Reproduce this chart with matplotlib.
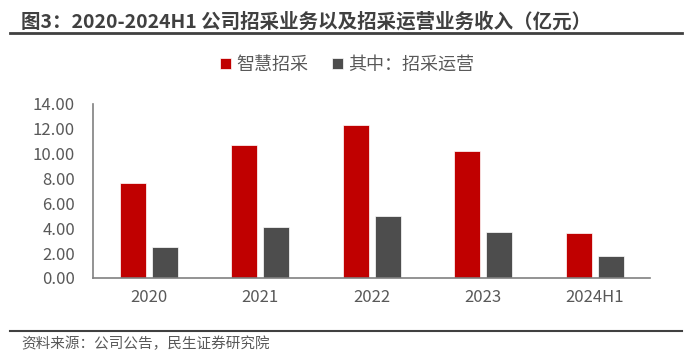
import matplotlib
matplotlib.use('Agg')
import matplotlib.pyplot as plt
import numpy as np

years = ['2020', '2021', '2022', '2023', '2024H1']
smart_procurement = [7.62, 10.70, 12.28, 10.24, 3.64]
procurement_ops = [2.47, 4.13, 5.01, 3.68, 1.77]
yticks = [0, 2, 4, 6, 8, 10, 12, 14]

plt.rcParams['font.family'] = ['Noto Sans CJK SC', 'DejaVu Sans']

red = '#C00000'
dark = '#4D4D4D'
txt = '#595959'

fig = plt.figure(figsize=(7.0, 3.61), dpi=100)
ax = fig.add_axes([0.133, 0.23, 0.796, 0.482])

x = np.arange(len(years))
w = 0.233
off = 0.144
ax.bar(x - off, smart_procurement, w, color=red, edgecolor='white', linewidth=0.5, label='智慧招采')
ax.bar(x + off, procurement_ops, w, color=dark, edgecolor='white', linewidth=0.5, label='其中：招采运营')

ax.set_xlim(-0.5, len(years) - 0.5)
ax.set_ylim(0, 14)
ax.set_yticks(yticks)
ax.set_yticklabels([f'{v:.2f}' for v in yticks], fontsize=12, color=txt)
ax.set_xticks(x)
ax.set_xticklabels(years, fontsize=12, color=txt)
ax.tick_params(axis='y', length=0, pad=13)
ax.tick_params(axis='x', length=0, pad=8)
for s in ['top', 'right']:
    ax.spines[s].set_visible(False)
for s in ['left', 'bottom']:
    ax.spines[s].set_color('#808080')
    ax.spines[s].set_linewidth(1.2)

leg = fig.legend(loc='center', bbox_to_anchor=(0.496, 0.82), ncol=2, frameon=False,
                 fontsize=13, handlelength=0.6, handleheight=0.6, handletextpad=0.3,
                 columnspacing=1.3)
for t in leg.get_texts():
    t.set_color(txt)

# title, rules and source
fig.text(0.03, 0.94, '图3：2020-2024H1 公司招采业务以及招采运营业务收入（亿元）',
         fontsize=14, fontweight='bold', color='#404040', va='center', ha='left')
fig.add_artist(plt.Line2D([0.014, 0.974], [0.908, 0.908], color='#404040', linewidth=2.0))
fig.add_artist(plt.Line2D([0.014, 0.974], [0.083, 0.083], color='#404040', linewidth=1.5))
fig.text(0.03, 0.047, '资料来源：公司公告，民生证券研究院', fontsize=10.5, color=txt,
         va='center', ha='left')

fig.savefig('out.png', dpi=100)
